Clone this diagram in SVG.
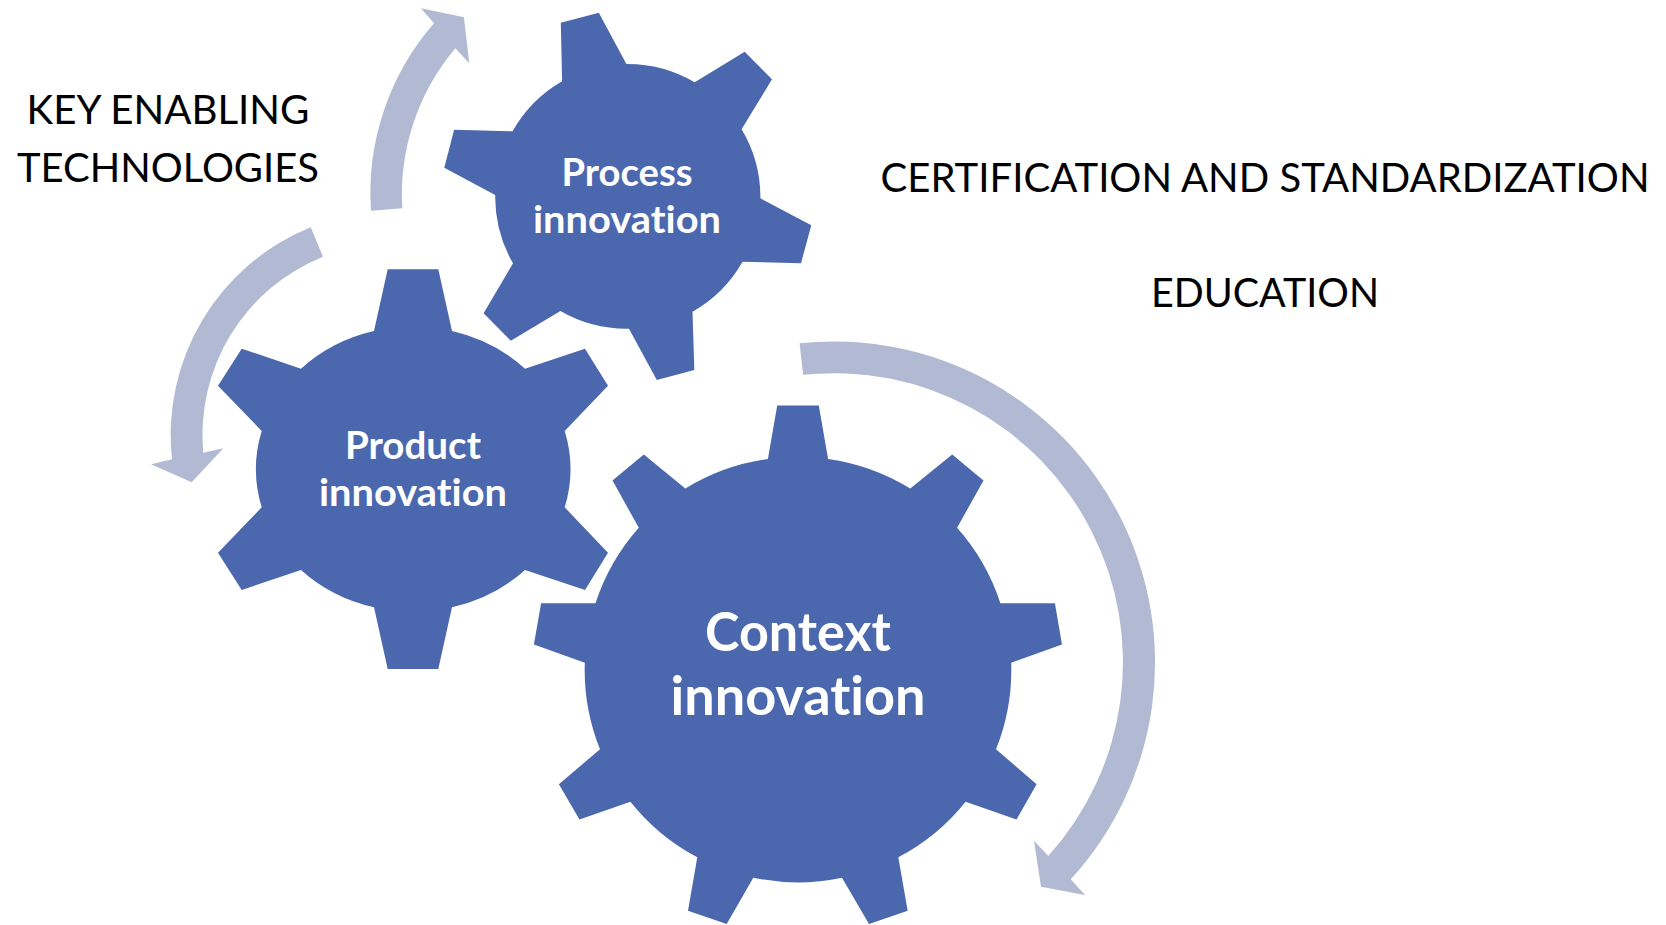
<svg xmlns="http://www.w3.org/2000/svg" width="1666" height="925" viewBox="0 0 1666 925">
<style>
.gear{fill:#4b67ad}
.arrow{fill:#b1b9d3}
text{font-family:Lato,"Open Sans",sans-serif;text-anchor:middle;font-variant-ligatures:none}
.lab{fill:#fff;font-weight:700;font-size:38px}
.big{fill:#fff;font-weight:700;font-size:53px}
.out{fill:#000;font-size:40.5px}
</style>
<rect width="1666" height="925" fill="#fff"/>
<g id="connectors">
<path class="arrow" d="M371 210.7L402.3 208.3A226 226 0 0 1 455.4 48.3L469.3 63.3L463.9 17.3L421 8.3L434 23.3A258 258 0 0 0 371 210.7Z"/>
<path class="arrow" d="M310.7 227.3L323 256.7A192 192 0 0 0 203.3 452.7L223.3 448.3L191.7 482.3L151 464.3L172 459.3A224 224 0 0 1 310.7 227.3Z"/>
<path class="arrow" d="M799.6 343.3L803.1 374.8A289 289 0 0 1 1048.3 856L1034 840.7L1041 886.7L1085 895L1070.7 879.3A321 321 0 0 0 799.6 343.3Z"/>
</g>
<g id="process-innovation">
<path class="gear" d="M560.8 22.7L598.8 12.7L626.4 64A132.5 132.5 0 0 1 694.7 82.3L744.7 51.7L772 79.3L741.6 129.3A132.5 132.5 0 0 1 760.4 198.3L811.3 225.3L801 263.3L742.5 261.7A132.5 132.5 0 0 1 692.5 311.7L694.3 370L656.8 380L629 328.7A132.5 132.5 0 0 1 560.4 311L510.8 340.7L483.6 313.3L513 263.3A132.5 132.5 0 0 1 495.2 195L444.3 167.7L454.1 129.7L512.6 131.3A132.5 132.5 0 0 1 562.1 81.3Z"/>
<text class="lab" x="627" y="185.5" textLength="131" lengthAdjust="spacingAndGlyphs">Process</text>
<text class="lab" x="627" y="232.5" textLength="188" lengthAdjust="spacingAndGlyphs">innovation</text>
</g>
<g id="product-innovation">
<path class="gear" d="M387.7 269.3L438.3 269.3L452 331A157 142.5 0 0 1 525 368.7L585 348.7L608 385.7L564.7 431A157 142.5 0 0 1 564.7 507.3L608 552.7L585 590L525 570A157 142.5 0 0 1 452 607.3L438.3 669L387.7 669L374 607.3A157 142.5 0 0 1 301 570L241.7 590L218 552.7L261.7 507.3A157 142.5 0 0 1 261.7 431L218 385.7L241.7 348.7L301 368.7A157 142.5 0 0 1 374 331Z"/>
<text class="lab" x="413" y="459" textLength="136" lengthAdjust="spacingAndGlyphs">Product</text>
<text class="lab" x="413" y="506" textLength="188" lengthAdjust="spacingAndGlyphs">innovation</text>
</g>
<g id="context-innovation">
<path class="gear" d="M777.2 405.5L818.8 405.5L828.1 459A213 213 0 0 1 910.3 488.6L952.2 454.4L983.5 480.6L957.1 527.7A213 213 0 0 1 1000.4 603.2L1054.9 603.2L1062 644.6L1011.2 662.8A213 213 0 0 1 996 749.3L1036.6 784.2L1016.5 819.5L965.6 801.7A213 213 0 0 1 898.3 857.3L907.7 910.7L869 924L842 877.7A213 213 0 0 1 753.3 877.7L726.7 924L688 910.7L697.3 857.3A213 213 0 0 1 630.4 801.7L579.5 819.5L558.9 784.2L600 749.3A213 213 0 0 1 584.8 662.8L533.9 644.6L541.1 603.2L595.5 603.2A213 213 0 0 1 638.8 527.7L612.5 480.6L643.8 454.4L685.3 488.6A213 213 0 0 1 767.9 459Z"/>
<text class="big" x="798" y="650.5" textLength="186" lengthAdjust="spacingAndGlyphs">Context</text>
<text class="big" x="798" y="715" textLength="255" lengthAdjust="spacingAndGlyphs">innovation</text>
</g>
<g id="key-enabling-technologies">
<text class="out" x="168" y="124" textLength="283" lengthAdjust="spacingAndGlyphs">KEY ENABLING</text>
<text class="out" x="168" y="181.5" textLength="302" lengthAdjust="spacingAndGlyphs">TECHNOLOGIES</text>
</g>
<g id="certification-and-standardization">
<text class="out" x="1265" y="191.5" textLength="769" lengthAdjust="spacingAndGlyphs">CERTIFICATION AND STANDARDIZATION</text>
</g>
<g id="education">
<text class="out" x="1265" y="307" textLength="228" lengthAdjust="spacingAndGlyphs">EDUCATION</text>
</g>
</svg>
